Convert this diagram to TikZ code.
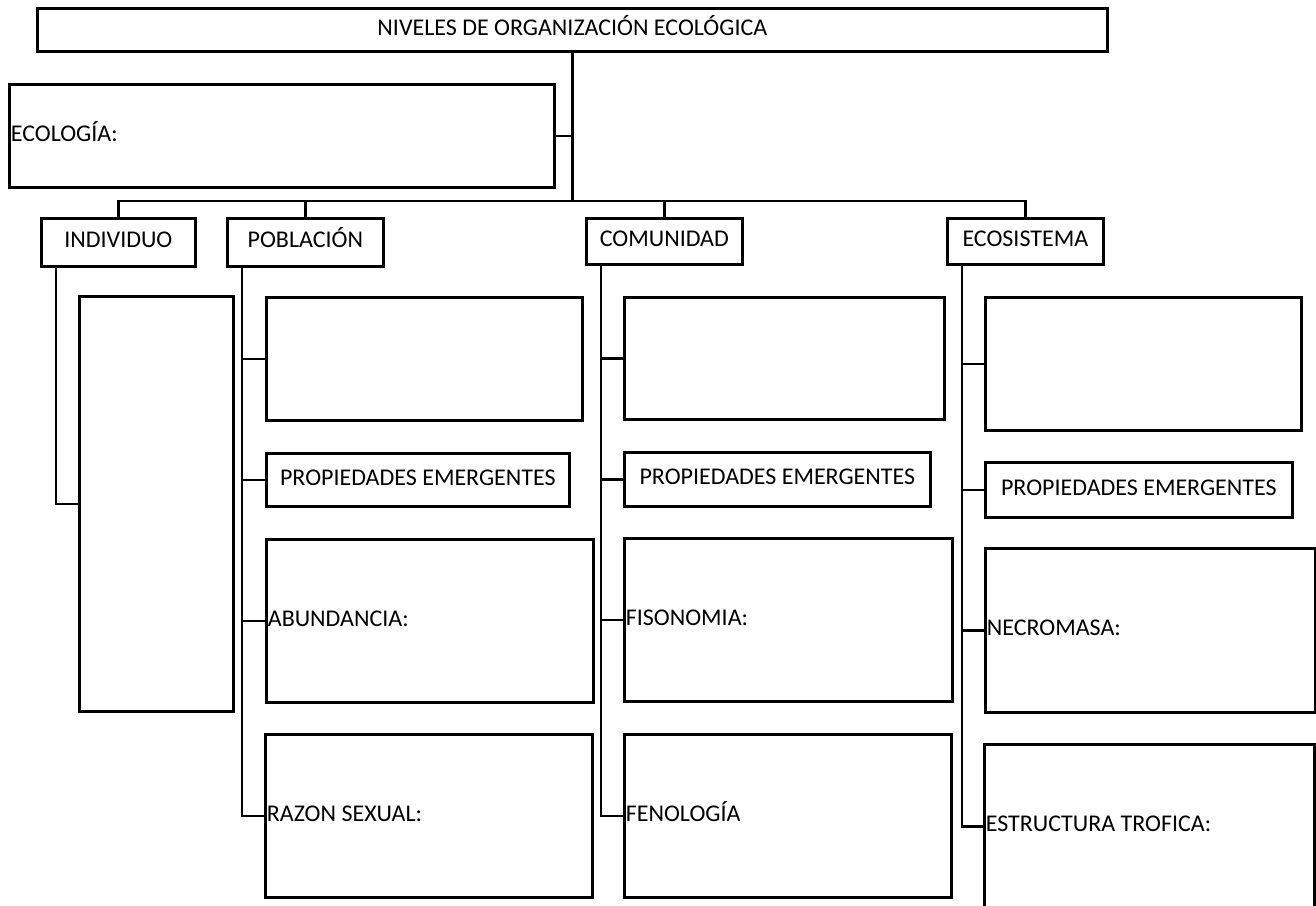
\documentclass[tikz,border=0pt]{standalone}
\usepackage{fontspec}
\setmainfont{Carlito}
\tikzset{
  caja/.style={draw, line width=2.7pt, anchor=north west, inner sep=1.5pt, text height=16pt, text depth=5.5pt, font=\fontsize{24}{29}\selectfont},
  centro/.style={caja, align=center},
  izq/.style={caja, align=flush left},
  linea/.style={line width=2.5pt}
}
\begin{document}
\begin{tikzpicture}[x=1pt, y=-1pt]
        \useasboundingbox (0,0) rectangle (1316,905);
        \node[centro, minimum width=1070, minimum height=43] (titulo) at (36,7) {NIVELES DE ORGANIZACIÓN ECOLÓGICA};
        \node[izq, text width=542, minimum height=103] (eco) at (8,83) {ECOLOGÍA:};
        \node[centro, minimum width=154, minimum height=48] (ind) at (40,217) {INDIVIDUO};
        \node[centro, minimum width=156, minimum height=48] (pob) at (226,217) {POBLACIÓN};
        \node[centro, minimum width=156, minimum height=46] (com) at (585,217) {COMUNIDAD};
        \node[centro, minimum width=156, minimum height=46] (ecs) at (946,217) {ECOSISTEMA};
        \node[caja, minimum width=154, minimum height=415] (indbox) at (78,295) {};
        \node[caja, minimum width=316, minimum height=123] (pob1) at (265,296) {};
        \node[centro, minimum width=303, minimum height=53] (pob2) at (265,452) {PROPIEDADES EMERGENTES};
        \node[izq, text width=324, minimum height=163] (pob3) at (265,538) {ABUNDANCIA:};
        \node[izq, text width=324, minimum height=163] (pob4) at (264,733) {RAZON SEXUAL:};
        \node[caja, minimum width=320, minimum height=122] (com1) at (623,296) {};
        \node[centro, minimum width=306, minimum height=54] (com2) at (623,451) {PROPIEDADES EMERGENTES};
        \node[izq, text width=325, minimum height=163] (com3) at (623,537) {FISONOMIA:};
        \node[izq, text width=324, minimum height=163] (com4) at (623,733) {FENOLOGÍA};
        \node[caja, minimum width=316, minimum height=133] (ecs1) at (984,296) {};
        \node[centro, minimum width=307, minimum height=55] (ecs2) at (984,461) {PROPIEDADES EMERGENTES};
        \node[izq, text width=327, minimum height=164] (ecs3) at (984,547) {NECROMASA:};
        \node[izq, text width=327, minimum height=164] (ecs4) at (983,743) {ESTRUCTURA TROFICA:};
        \coordinate (barra) at (0,201);
        \draw[linea] (titulo.south) -- (titulo.south |- barra);
        \draw[linea] (eco.east) -- (eco.east -| titulo.south);
        \draw[linea] (ind.north) -- (ind.north |- barra) -- (ecs.north |- barra) -- (ecs.north);
        \foreach \n in {pob,com}
            {\draw[linea] (\n.north) -- (\n.north |- barra);}
        \foreach \n in {ind,pob,com,ecs}
            {\coordinate (\n-x) at ([xshift=16pt]\n.south west);}
        \draw[linea] (ind-x) |- (indbox.west);
        \foreach \n in {pob,com,ecs}
            {
                \draw[linea] (\n-x) |- (\n4.west);
                \foreach \i in {1,2,3}{ \draw[linea] (\n\i.west) -- (\n\i.west -| \n-x);}
            }
    \end{tikzpicture}
\end{document}
